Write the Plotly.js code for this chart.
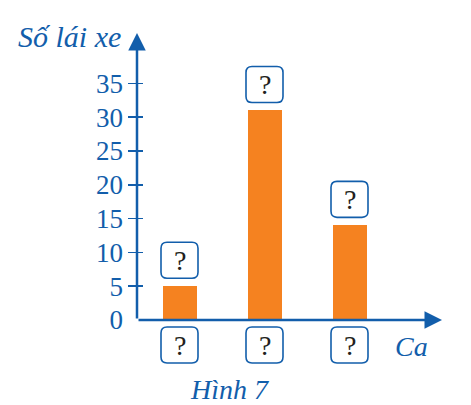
<!DOCTYPE html>
<html>
<head>
<meta charset="utf-8">
<script src="https://cdn.plot.ly/plotly-3.0.1.min.js"></script>
<style>html,body{margin:0;padding:0;background:#fff;}#chart{width:471px;height:405px;}</style>
</head>
<body>
<div id="chart"></div>
<script>
// ---- data ----
const categories = ['Ca 1', 'Ca 2', 'Ca 3'];
const values = [5, 31, 14];
const categoryLabels = ['?', '?', '?'];
const valueLabels = ['?', '?', '?'];
const yTicks = [0, 5, 10, 15, 20, 25, 30, 35];
const yTitle = 'Số lái xe';
const xTitle = 'Ca';
const caption = 'Hình 7';

// ---- style ----
const BLUE = '#125eab';
const ORANGE = '#f58220';
const FONT = 'Liberation Serif';
const W = 471, H = 405;
const M = {l: 137, r: 29, t: 33, b: 85};
const PW = W - M.l - M.r, PH = H - M.t - M.b;
const xRange = [-0.5, -0.5 + PW / 85];
const yRange = [0, PH / 6.76];
const px = v => (v - M.l) / PW;      // pixel x -> paper
const py = v => (H - M.b - v) / PH;  // pixel y -> paper

function roundedBox(cy) {
  const w = 18.5, h = 18, r = 6;
  const x0 = -w, x1 = w, y0 = cy - h, y1 = cy + h;
  return `M ${x0 + r} ${y0} L ${x1 - r} ${y0} Q ${x1} ${y0} ${x1} ${y0 + r} ` +
         `L ${x1} ${y1 - r} Q ${x1} ${y1} ${x1 - r} ${y1} ` +
         `L ${x0 + r} ${y1} Q ${x0} ${y1} ${x0} ${y1 - r} ` +
         `L ${x0} ${y0 + r} Q ${x0} ${y0} ${x0 + r} ${y0} Z`;
}

const traces = [
  {type: 'bar', x: categories, y: values, marker: {color: ORANGE, line: {width: 0}},
   width: 0.4, hoverinfo: 'skip', xaxis: 'x', yaxis: 'y'},
  {type: 'scatter', x: categories, y: values, mode: 'none', hoverinfo: 'skip', xaxis: 'x', yaxis: 'y2', showlegend: false},
  {type: 'scatter', x: categories, y: values, mode: 'none', hoverinfo: 'skip', xaxis: 'x', yaxis: 'y3', showlegend: false}
];

const QFONT = {family: FONT, size: 28, color: '#231f20'};
const shapes = [];
const annotations = [];
categories.forEach((c, i) => {
  shapes.push({type: 'path', xref: 'x', yref: 'y', xsizemode: 'pixel', ysizemode: 'pixel',
    xanchor: i, yanchor: values[i], path: roundedBox(26), line: {color: BLUE, width: 1.6}, fillcolor: 'rgba(0,0,0,0)'});
  shapes.push({type: 'path', xref: 'x', yref: 'paper', xsizemode: 'pixel', ysizemode: 'pixel',
    xanchor: i, yanchor: 0, path: roundedBox(-25), line: {color: BLUE, width: 1.6}, fillcolor: 'rgba(0,0,0,0)'});
  annotations.push({x: i, y: values[i], xref: 'x', yref: 'y', yshift: 26, text: valueLabels[i],
    showarrow: false, font: QFONT, xanchor: 'center', yanchor: 'middle'});
  annotations.push({x: i, y: 0, xref: 'x', yref: 'y', yshift: -25, text: categoryLabels[i],
    showarrow: false, font: QFONT, xanchor: 'center', yanchor: 'middle'});
});

// axis arrows
annotations.push({x: xRange[0], y: yRange[1], xref: 'x', yref: 'y', axref: 'x', ayref: 'y',
  ax: xRange[0], ay: 0, text: '', showarrow: true, arrowhead: 2, arrowsize: 1.4, arrowwidth: 2.5, arrowcolor: BLUE});
annotations.push({x: xRange[1], y: 0, xref: 'x', yref: 'y', axref: 'x', ayref: 'y',
  ax: xRange[0], ay: 0, text: '', showarrow: true, arrowhead: 2, arrowsize: 1.4, arrowwidth: 2.5, arrowcolor: BLUE});

// titles
annotations.push({x: px(16), y: py(36), xref: 'paper', yref: 'paper', text: yTitle, showarrow: false,
  xanchor: 'left', yanchor: 'middle', font: {family: FONT, size: 30, color: BLUE, style: 'italic'}});
annotations.push({x: px(393), y: py(346), xref: 'paper', yref: 'paper', text: xTitle, showarrow: false,
  xanchor: 'left', yanchor: 'middle', font: {family: FONT, size: 28, color: BLUE, style: 'italic'}});
annotations.push({x: px(229), y: py(389), xref: 'paper', yref: 'paper', text: caption, showarrow: false,
  xanchor: 'center', yanchor: 'middle', font: {family: FONT, size: 28, color: BLUE, style: 'italic'}});

const layout = {
  width: W, height: H, margin: M, showlegend: false,
  paper_bgcolor: '#fff', plot_bgcolor: '#fff',
  font: {family: FONT},
  xaxis: {type: 'category', range: xRange, showgrid: false, zeroline: false, showline: false,
    showticklabels: false, ticks: '', fixedrange: true},
  yaxis: {range: yRange, showgrid: false, zeroline: false, showline: false, ticks: '',
    tickvals: yTicks, ticktext: yTicks.map(String), ticklabelstandoff: 13,
    tickfont: {family: FONT, size: 27, color: BLUE}, fixedrange: true},
  yaxis2: {range: yRange, overlaying: 'y', side: 'left', showgrid: false, zeroline: false, showline: false,
    tickvals: yTicks.slice(1), ticks: 'outside', ticklen: 8, tickwidth: 1.6, tickcolor: BLUE,
    showticklabels: false, fixedrange: true},
  yaxis3: {range: yRange, overlaying: 'y', side: 'left', showgrid: false, zeroline: false, showline: false,
    tickvals: yTicks.slice(1), ticks: 'inside', ticklen: 6, tickwidth: 1.6, tickcolor: BLUE,
    showticklabels: false, fixedrange: true},
  shapes: shapes, annotations: annotations, bargap: 0
};

Plotly.newPlot('chart', traces, layout, {displayModeBar: false, staticPlot: true});
</script>
</body>
</html>
